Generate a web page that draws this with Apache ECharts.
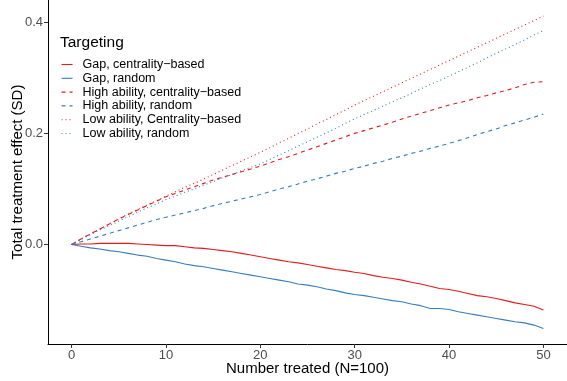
<!DOCTYPE html>
<html>
<head>
<meta charset="utf-8">
<script src="https://cdn.jsdelivr.net/npm/echarts@6/dist/echarts.min.js"></script>
<style>
  html, body { margin: 0; padding: 0; background: #fff; }
  #chart { width: 567px; height: 381px; }
</style>
</head>
<body>
<div id="chart"></div>
<script>
// Number of people treated, 0..50
const treated = Array.from({ length: 51 }, (_, i) => i);

// Total treatment effect (SD) per targeting rule
const gapCentrality = [
  0.000, 0.001, 0.001, 0.002, 0.002, 0.002, 0.002, 0.001, 0.000, -0.001,
  -0.002, -0.002, -0.004, -0.006, -0.007, -0.009, -0.011, -0.013, -0.016, -0.019,
  -0.022, -0.025, -0.028, -0.031, -0.033, -0.036, -0.039, -0.042, -0.045, -0.047,
  -0.050, -0.052, -0.056, -0.059, -0.061, -0.064, -0.068, -0.071, -0.075, -0.079,
  -0.081, -0.084, -0.088, -0.092, -0.094, -0.097, -0.101, -0.105, -0.108, -0.111,
  -0.118
];
const gapRandom = [
  0.000, -0.003, -0.006, -0.008, -0.011, -0.013, -0.016, -0.019, -0.021, -0.025,
  -0.028, -0.031, -0.035, -0.038, -0.040, -0.043, -0.046, -0.049, -0.052, -0.055,
  -0.058, -0.061, -0.064, -0.067, -0.071, -0.073, -0.076, -0.080, -0.083, -0.087,
  -0.090, -0.092, -0.095, -0.098, -0.101, -0.103, -0.107, -0.110, -0.115, -0.115,
  -0.117, -0.121, -0.124, -0.127, -0.130, -0.133, -0.136, -0.139, -0.141, -0.145,
  -0.151
];
const highCentrality = [
  0.000, 0.010, 0.019, 0.028, 0.037, 0.046, 0.054, 0.062, 0.070, 0.078,
  0.086, 0.092, 0.098, 0.104, 0.110, 0.116, 0.121, 0.126, 0.131, 0.136,
  0.141, 0.147, 0.153, 0.158, 0.164, 0.170, 0.176, 0.182, 0.188, 0.194,
  0.200, 0.205, 0.210, 0.215, 0.220, 0.226, 0.231, 0.236, 0.241, 0.246,
  0.251, 0.255, 0.259, 0.264, 0.268, 0.273, 0.277, 0.282, 0.288, 0.292,
  0.293
];
const highRandom = [
  0.000, 0.005, 0.010, 0.015, 0.020, 0.025, 0.030, 0.035, 0.040, 0.045,
  0.049, 0.053, 0.057, 0.061, 0.065, 0.070, 0.074, 0.078, 0.082, 0.086,
  0.090, 0.095, 0.100, 0.104, 0.109, 0.114, 0.118, 0.123, 0.128, 0.132,
  0.137, 0.141, 0.146, 0.150, 0.155, 0.159, 0.164, 0.168, 0.173, 0.177,
  0.182, 0.187, 0.192, 0.198, 0.203, 0.208, 0.214, 0.219, 0.224, 0.229,
  0.235
];
const lowCentrality = [
  0.000, 0.010, 0.019, 0.028, 0.037, 0.046, 0.055, 0.063, 0.071, 0.079,
  0.087, 0.095, 0.103, 0.110, 0.118, 0.126, 0.134, 0.142, 0.150, 0.158,
  0.166, 0.174, 0.183, 0.191, 0.200, 0.208, 0.217, 0.225, 0.234, 0.242,
  0.251, 0.259, 0.267, 0.275, 0.283, 0.291, 0.299, 0.307, 0.315, 0.323,
  0.331, 0.339, 0.347, 0.355, 0.363, 0.371, 0.379, 0.387, 0.395, 0.403,
  0.411
];
const lowRandom = [
  0.000, 0.009, 0.018, 0.026, 0.034, 0.042, 0.050, 0.058, 0.066, 0.073,
  0.081, 0.087, 0.094, 0.100, 0.107, 0.113, 0.120, 0.126, 0.133, 0.139,
  0.145, 0.153, 0.161, 0.169, 0.177, 0.185, 0.193, 0.201, 0.209, 0.218,
  0.226, 0.234, 0.241, 0.249, 0.257, 0.264, 0.272, 0.280, 0.288, 0.295,
  0.303, 0.311, 0.319, 0.327, 0.336, 0.344, 0.352, 0.360, 0.368, 0.377,
  0.385
];

const seriesNames = [
  'Gap, centrality\u2212based',
  'Gap, random',
  'High ability, centrality\u2212based',
  'High ability, random',
  'Low ability, Centrality\u2212based',
  'Low ability, random'
];
const xTicks = [0, 10, 20, 30, 40, 50];
const yTicks = [0, 0.2, 0.4];

const RED = '#E41A1C';
const BLUE = '#377EB8';
const FONT = 'Liberation Sans, Arial, sans-serif';

const styles = [
  { color: RED, type: 'solid' },
  { color: BLUE, type: 'solid' },
  { color: RED, type: [4, 4] },
  { color: BLUE, type: [4, 4] },
  { color: RED, type: [1, 3] },
  { color: BLUE, type: [1, 3] }
];
const values = [gapCentrality, gapRandom, highCentrality, highRandom, lowCentrality, lowRandom];

const series = seriesNames.map((name, k) => ({
  name,
  type: 'line',
  data: treated.map((x, i) => [x, values[k][i]]),
  symbol: 'none',
  showSymbol: false,
  smooth: false,
  color: styles[k].color,
  lineStyle: { color: styles[k].color, width: 1.1, type: styles[k].type },
  emphasis: { disabled: true },
  z: 2
}));

const chart = echarts.init(document.getElementById('chart'), null, { renderer: 'canvas' });
chart.setOption({
  animation: false,
  backgroundColor: '#ffffff',
  textStyle: { fontFamily: FONT },
  title: {
    text: 'Targeting',
    left: 60,
    top: 35,
    textStyle: { fontFamily: FONT, fontSize: 15.5, fontWeight: 'normal', color: '#000' },
    padding: 0
  },
  legend: {
    orient: 'vertical',
    left: 61,
    top: 58,
    padding: 0,
    itemWidth: 11,
    itemHeight: 10,
    itemGap: 0.8,
    data: seriesNames,
    itemStyle: { opacity: 0 },
    lineStyle: { width: 1.1 },
    textStyle: { fontFamily: FONT, fontSize: 12.5, color: '#000', padding: [0, 0, 0, 5], lineHeight: 10 },
    selectedMode: false
  },
  grid: { left: 48, right: 0, top: 0, bottom: 37, containLabel: false, outerBoundsMode: 'none' },
  xAxis: {
    type: 'value',
    min: -2.5,
    max: 52.5,
    name: 'Number treated (N=100)',
    nameLocation: 'middle',
    nameGap: 17,
    nameMoveOverlap: false,
    nameTextStyle: { fontFamily: FONT, fontSize: 15, color: '#000' },
    axisLine: { show: true, onZero: false, lineStyle: { color: '#000', width: 1 } },
    axisTick: { show: true, length: 4, customValues: xTicks, lineStyle: { color: '#333', width: 1 } },
    axisLabel: { customValues: xTicks, margin: 5, fontFamily: FONT, fontSize: 13, color: '#4D4D4D' },
    splitLine: { show: false }
  },
  yAxis: {
    type: 'value',
    min: -0.179,
    max: 0.44,
    name: 'Total treatment effect (SD)',
    nameLocation: 'middle',
    nameGap: 22.5,
    nameMoveOverlap: false,
    nameRotate: 90,
    nameTextStyle: { fontFamily: FONT, fontSize: 15, color: '#000' },
    axisLine: { show: true, onZero: false, lineStyle: { color: '#000', width: 1 } },
    axisTick: { show: true, length: 4, customValues: yTicks, lineStyle: { color: '#333', width: 1 } },
    axisLabel: {
      customValues: yTicks,
      margin: 5,
      fontFamily: FONT,
      fontSize: 13,
      color: '#4D4D4D',
      formatter: v => v.toFixed(1)
    },
    splitLine: { show: false }
  },
  series
});
</script>
</body>
</html>
